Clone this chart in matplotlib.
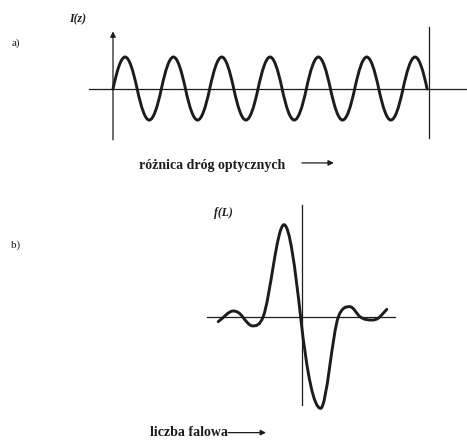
import numpy as np
import matplotlib
matplotlib.use('Agg')
import matplotlib.pyplot as plt
from matplotlib.path import Path
from matplotlib.patches import PathPatch

# panel a: interferogram I(z), key points (x in periods, y in amplitude)
a_x = [0.0, 0.25, 0.5, 0.75, 1.0, 1.25, 1.5, 1.75, 2.0, 2.25, 2.5, 2.75, 3.0,
       3.25, 3.5, 3.75, 4.0, 4.25, 4.5, 4.75, 5.0, 5.25, 5.5, 5.75, 6.0, 6.25, 6.5]
a_y = [0, 1, 0, -0.97, 0, 1, 0, -0.97, 0, 1, 0, -0.97, 0,
       1, 0, -0.97, 0, 1, 0, -0.97, 0, 1, 0, -0.97, 0, 1, 0]

# panel b: spectrum f(L), key points
b_x = [-4.19, -3.43, -2.97, -2.47, -1.94, -0.90, -0.07, 0.93, 1.82, 2.40, 2.90, 3.49, 3.90, 4.24]
b_y = [-0.054, 0.062, 0.0, -0.10, 0.0, 1.0, 0.0, -0.996, 0.0, 0.109, 0.0, -0.036, 0.0, 0.08]

ink = '#1c1c1c'
serif = ['Liberation Serif', 'DejaVu Serif']
ROUND = 1.78  # slope factor at zero crossings (controls how round the humps are)


def slopes_for(xs, ys):
    # zero slope at extrema, sine-like (limited) slope elsewhere
    n = len(xs)
    m = []
    for i in range(n):
        if i == 0 or i == n - 1:
            j, k = (0, 1) if i == 0 else (n - 2, n - 1)
            s = (ys[k] - ys[j]) / (xs[k] - xs[j])
            m.append(s * (ROUND if ys[i] == 0 else 1.0))
            continue
        d1 = (ys[i] - ys[i - 1]) / (xs[i] - xs[i - 1])
        d2 = (ys[i + 1] - ys[i]) / (xs[i + 1] - xs[i])
        if d1 * d2 <= 0:
            m.append(0.0)
            continue
        s = ROUND * 2 * d1 * d2 / (d1 + d2)
        lim = 3 * min(abs(d1), abs(d2))
        m.append(np.sign(s) * min(abs(s), lim))
    return m


def smooth_path(xs, ys):
    m = slopes_for(xs, ys)
    verts = [(xs[0], ys[0])]
    codes = [Path.MOVETO]
    for i in range(len(xs) - 1):
        dx = xs[i + 1] - xs[i]
        verts += [(xs[i] + dx / 3, ys[i] + m[i] * dx / 3),
                  (xs[i + 1] - dx / 3, ys[i + 1] - m[i + 1] * dx / 3),
                  (xs[i + 1], ys[i + 1])]
        codes += [Path.CURVE4] * 3
    return Path(verts, codes)


fig = plt.figure(figsize=(4.67, 4.41), dpi=100)
H = 441.0

# ---- panel a
ax = fig.add_axes([0, 1 - 190 / H, 1, 190 / H])
ax.set_xlim(-113 / 48.33, (467 - 113) / 48.33)
ax.set_ylim((89 - 190) / 32.0, 89 / 32.0)
ax.set_axis_off()

ax.plot([-0.497, 7.4], [0, 0], color=ink, lw=0.9)
ax.annotate('', xy=(0, 1.80), xytext=(0, -1.59),
            arrowprops=dict(arrowstyle='-|>', color=ink, lw=0.9,
                            mutation_scale=8, shrinkA=0, shrinkB=0))
ax.plot([6.54, 6.54], [1.94, -1.53], color=ink, lw=0.9)
ax.add_patch(PathPatch(smooth_path(a_x, a_y), fill=False, ec=ink, lw=2.1,
                       capstyle='round'))

ax.text(-0.724, 2.19, 'I(z)', family=serif, style='italic', weight='bold',
        fontsize=8.5, color=ink, ha='center', va='center')
ax.text(-2.007, 1.44, 'a)', family=serif, fontsize=8, color=ink,
        ha='center', va='center')
ax.text(2.05, -2.375, 'różnica dróg optycznych', family=serif, weight='bold',
        fontsize=10, color=ink, ha='center', va='center')
ax.annotate('', xy=(4.57, -2.31), xytext=(3.91, -2.31),
            arrowprops=dict(arrowstyle='-|>', color=ink, lw=0.9,
                            mutation_scale=8, shrinkA=0, shrinkB=0))

# ---- panel b
bx = fig.add_axes([0, 0, 1, 251 / H])
bx.set_xlim(-302 / 20.0, (467 - 302) / 20.0)
bx.set_ylim((316.7 - 441) / 92.0, (316.7 - 190) / 92.0)
bx.set_axis_off()

bx.plot([-4.75, 4.65], [0, 0], color=ink, lw=0.9)
bx.plot([0.0, 0.0], [1.21, -0.96], color=ink, lw=0.9)
bx.add_patch(PathPatch(smooth_path(b_x, b_y), fill=False, ec=ink, lw=2.1,
                       capstyle='round'))

bx.text(-3.95, 1.127, 'f(L)', family=serif, style='italic', weight='bold',
        fontsize=8.5, color=ink, ha='center', va='center')
bx.text(-14.3, 0.78, 'b)', family=serif, fontsize=8, color=ink,
        ha='center', va='center')
bx.text(-5.65, -1.254, 'liczba falowa', family=serif, weight='bold',
        fontsize=10, color=ink, ha='center', va='center')
bx.annotate('', xy=(-1.8, -1.26), xytext=(-3.7, -1.26),
            arrowprops=dict(arrowstyle='-|>', color=ink, lw=0.9,
                            mutation_scale=8, shrinkA=0, shrinkB=0))

fig.savefig('out.png', dpi=100)
